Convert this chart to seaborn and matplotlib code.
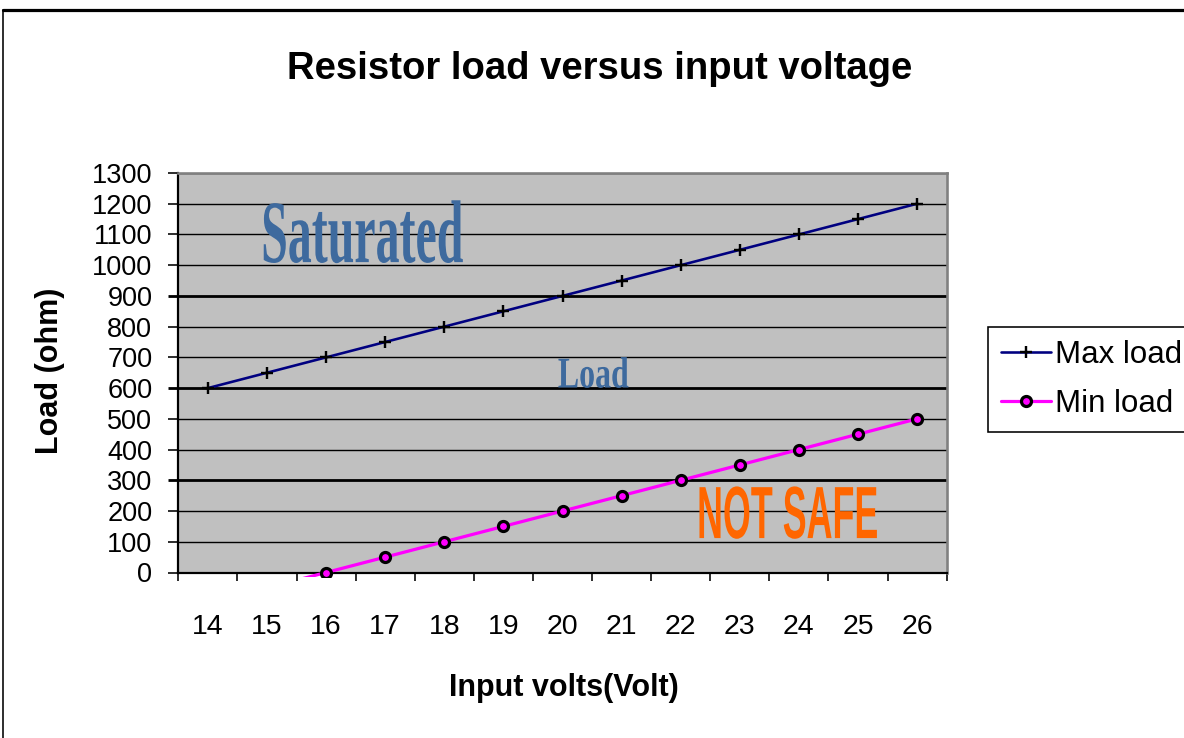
import matplotlib
matplotlib.use("Agg")
import matplotlib.pyplot as plt
import matplotlib.patheffects as pe
import numpy as np
import pandas as pd
import seaborn as sns
from matplotlib.lines import Line2D
from matplotlib.patches import Rectangle
from matplotlib.transforms import Affine2D

# data
volts = [14, 15, 16, 17, 18, 19, 20, 21, 22, 23, 24, 25, 26]
max_load = [600, 650, 700, 750, 800, 850, 900, 950, 1000, 1050, 1100, 1150, 1200]
min_load = [-100, -50, 0, 50, 100, 150, 200, 250, 300, 350, 400, 450, 500]
y_ticks = list(range(0, 1301, 100))

title = "Resistor load versus input voltage"
x_label = "Input volts(Volt)"
y_label = "Load (ohm)"

PX = 72 / 100  # points per pixel at dpi 100


class Stretch(pe.AbstractPathEffect):
    """Stretch glyphs vertically about the baseline (WordArt look)."""

    def __init__(self, sy):
        super().__init__()
        self._t = Affine2D().scale(1.0, sy)

    def draw_path(self, renderer, gc, tpath, affine, rgbFace=None):
        renderer.draw_path(gc, tpath, self._t + affine, rgbFace)


def main() -> None:
    sns.set_style("white")
    plt.rcParams["font.family"] = ["Liberation Sans", "DejaVu Sans"]
    for key in ("text.color", "axes.labelcolor", "xtick.color", "ytick.color"):
        plt.rcParams[key] = "black"

    fig = plt.figure(figsize=(11.84, 7.38), dpi=100)
    ax = fig.add_axes([178.3 / 1184, 1 - 572.5 / 738, 768.4 / 1184, 399.5 / 738])
    ax.set_facecolor("#C0C0C0")

    max_line = sns.lineplot(
        x=volts, y=max_load, color="#000080", linewidth=2.6 * PX,
        marker="+", markersize=12 * PX, markeredgecolor="black",
        markeredgewidth=2.4 * PX, label="Max load", ax=ax,
    ).lines[-1]
    min_line = sns.lineplot(
        x=volts, y=min_load, color="#FF00FF", linewidth=3.2 * PX,
        marker="o", markersize=10 * PX, markerfacecolor="#FF00FF",
        markeredgecolor="black", markeredgewidth=3.2 * PX,
        label="Min load", ax=ax,
    ).lines[-1]
    for line in (max_line, min_line):
        line.set_zorder(4)
    min_line.set_clip_path(Rectangle((0, -0.012), 1, 1.012, transform=ax.transAxes))

    ax.set_xlim(volts[0] - 0.5, volts[-1] + 0.5)
    ax.set_ylim(0, 1300)

    # x: ticks at category boundaries, labels at category centres
    ax.set_xticks(np.arange(volts[0] - 0.5, volts[-1] + 1.0, 1.0))
    ax.set_xticklabels([])
    ax.set_xticks(volts, minor=True)
    ax.set_xticklabels([str(v) for v in volts], minor=True)
    ax.tick_params(axis="x", which="major", direction="out", length=8 * PX,
                   width=1.6 * PX, color="black", bottom=True)
    ax.tick_params(axis="x", which="minor", length=0, pad=42 * PX,
                   labelsize=20.5, bottom=True)

    ax.set_yticks(y_ticks)
    ax.set_yticklabels([str(v) for v in y_ticks])
    ax.tick_params(axis="y", which="major", direction="out", length=10 * PX,
                   width=1.6 * PX, color="black", pad=16 * PX, labelsize=19.5,
                   left=True)

    ax.yaxis.grid(True, color="black", linewidth=1.4 * PX)
    ax.xaxis.grid(False)
    ax.set_axisbelow(True)
    for v, gl, tk in zip(y_ticks, ax.get_ygridlines(), ax.yaxis.get_major_ticks()):
        if v in (300, 600, 900):
            gl.set_linewidth(2.8 * PX)
            tk.tick1line.set_markeredgewidth(2.8 * PX)

    for side in ("left", "bottom"):
        ax.spines[side].set_color("black")
        ax.spines[side].set_linewidth(2.2 * PX)
    for side in ("top", "right"):
        ax.spines[side].set_color("#808080")
        ax.spines[side].set_linewidth(2.6 * PX)

    ax.set_xlabel(x_label, fontsize=22, fontweight="bold", va="center")
    ax.xaxis.set_label_coords((564 - 178.3) / 768.4, (572.5 - 688) / 399.5)
    ax.set_ylabel(y_label, fontsize=22, fontweight="bold", va="center")
    ax.yaxis.set_label_coords((50 - 178.3) / 768.4, (572.5 - 371) / 399.5)

    fig.suptitle(title, x=600 / 1184, y=1 - 69 / 738, va="center",
                 fontsize=27.5, fontweight="bold")

    ax.legend(
        handles=[max_line, min_line], labels=["Max load", "Min load"],
        loc="upper left", bbox_to_anchor=(988 / 1184, 1 - 327 / 738),
        bbox_transform=fig.transFigure, fontsize=22.5, frameon=True,
        fancybox=False, framealpha=1, edgecolor="black", numpoints=1,
        handlelength=1.6, handletextpad=0.12, labelspacing=0.6,
        borderpad=0.42, borderaxespad=0,
    ).get_frame().set_linewidth(1.6 * PX)

    # WordArt style annotations
    wordart = [
        ("Saturated", 16.61, 1010, "#3E6A9E", "serif", 59),
        ("Load", 20.52, 602, "#3E6A9E", "serif", 29),
        ("NOT SAFE", 23.81, 112, "#FF6600", "narrow", 53),
    ]
    widths = {"Saturated": 202, "Load": 71, "NOT SAFE": 181}
    renderer = fig.canvas.get_renderer()
    for text, x, y, color, kind, cap_px in wordart:
        family = (["Liberation Serif", "DejaVu Serif"] if kind == "serif"
                  else ["Liberation Sans Narrow", "Liberation Sans", "DejaVu Sans"])
        t = ax.text(x, y, text, color=color, family=family, fontweight="bold",
                    ha="center", va="baseline", fontsize=30, zorder=5)
        w = t.get_window_extent(renderer).width
        size = 30 * widths[text] / w
        t.set_fontsize(size)
        cap_ratio = 0.662 if kind == "serif" else 0.716
        t.set_path_effects([Stretch(cap_px / (cap_ratio * size / PX))])

    # chart area border (cropped on the right and bottom)
    fig.add_artist(Line2D([3 / 1184, 1], [1 - 10 / 738] * 2, color="black",
                          linewidth=3.2 * PX, transform=fig.transFigure))
    fig.add_artist(Line2D([3 / 1184] * 2, [0, 1 - 10 / 738], color="black",
                          linewidth=1.6 * PX, transform=fig.transFigure))

    fig.savefig("out.png", dpi=100)
    plt.close(fig)


if __name__ == "__main__":
    main()
